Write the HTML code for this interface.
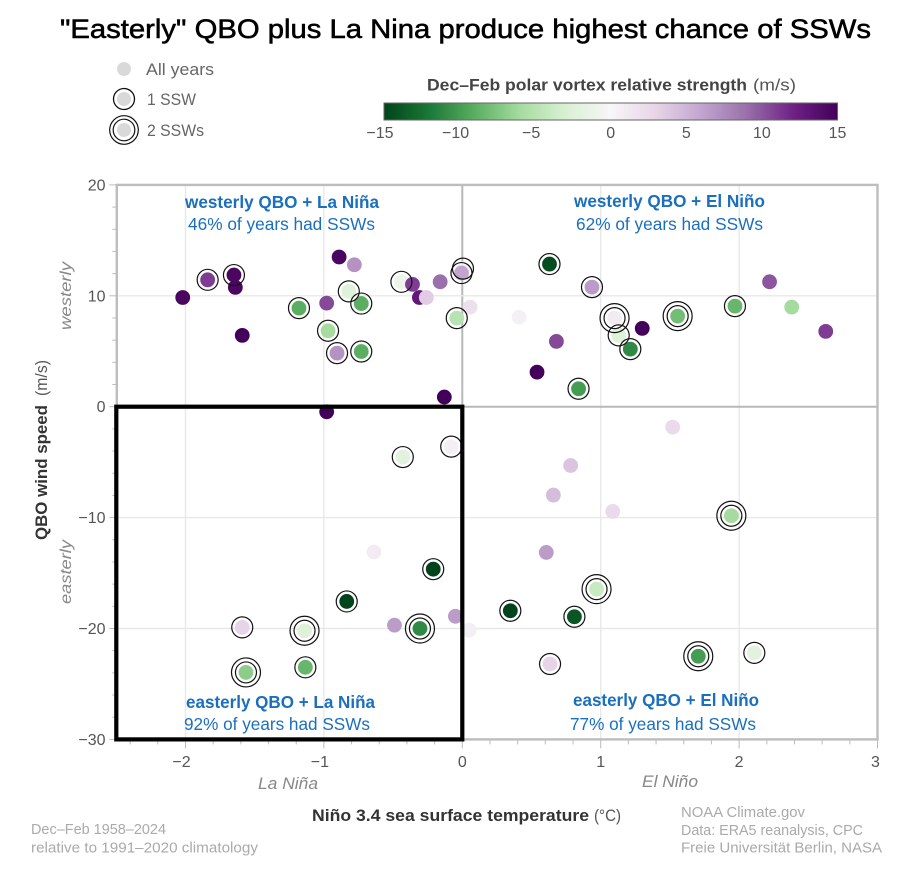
<!DOCTYPE html>
<html lang="en">
<head>
<meta charset="utf-8">
<title>QBO and ENSO scatter</title>
<style>
html,body{margin:0;padding:0;background:#fff;}
svg{display:block;font-family:"Liberation Sans",sans-serif;}
</style>
</head>
<body>
<svg id="chart" xmlns="http://www.w3.org/2000/svg" width="908" height="873" viewBox="0 0 908 873">
  <defs>
    <linearGradient id="cbar" x1="0" x2="1" y1="0" y2="0"></linearGradient>
  </defs>
  <rect width="908" height="873" fill="#fff"/>
  <text x="60" y="38" font-size="26.5" fill="#000" stroke="#000" stroke-width="0.55" textLength="811" lengthAdjust="spacingAndGlyphs">"Easterly" QBO plus La Nina produce highest chance of SSWs</text>

  <g>
    <circle cx="124" cy="69" r="7" fill="#d9d9d9"/>
    <text x="146" y="75" font-size="16.5" fill="#666" textLength="68" lengthAdjust="spacingAndGlyphs">All years</text>
    <circle cx="124" cy="99" r="7" fill="#d9d9d9"/>
    <circle cx="124" cy="99" r="10.5" fill="none" stroke="#111" stroke-width="1.3"/>
    <text x="147" y="105" font-size="16.5" fill="#666" textLength="49" lengthAdjust="spacingAndGlyphs">1 SSW</text>
    <circle cx="124" cy="130" r="7" fill="#d9d9d9"/>
    <circle cx="124" cy="130" r="10.8" fill="none" stroke="#111" stroke-width="1.2"/>
    <circle cx="124" cy="130" r="14.3" fill="none" stroke="#111" stroke-width="1.2"/>
    <text x="147" y="136" font-size="16.5" fill="#666" textLength="57" lengthAdjust="spacingAndGlyphs">2 SSWs</text>
  </g>

  <g>
    <text x="427" y="90.5" font-size="16.5" font-weight="bold" fill="#444" textLength="320" lengthAdjust="spacingAndGlyphs">Dec–Feb polar vortex relative strength</text>
    <text x="753" y="90.5" font-size="16.5" fill="#555" textLength="43" lengthAdjust="spacingAndGlyphs">(m/s)</text>
    <rect x="384" y="103" width="453.5" height="17" fill="url(#cbar)" stroke="#666" stroke-width="1"/>
    <g id="cbarTicks"></g>
  </g>

  <g id="grid"></g>
  <g id="axes"></g>

  <text transform="translate(47,540) rotate(-90)" font-size="17" font-weight="bold" fill="#333" textLength="135" lengthAdjust="spacingAndGlyphs">QBO wind speed</text>
  <text transform="translate(47,396) rotate(-90)" font-size="17" fill="#555" textLength="36" lengthAdjust="spacingAndGlyphs">(m/s)</text>
  <text transform="translate(71,330) rotate(-90)" font-size="16" font-style="italic" fill="#888" textLength="68" lengthAdjust="spacingAndGlyphs">westerly</text>
  <text transform="translate(71,604) rotate(-90)" font-size="16" font-style="italic" fill="#888" textLength="64" lengthAdjust="spacingAndGlyphs">easterly</text>
  <text x="258" y="789" font-size="16.5" font-style="italic" fill="#888" textLength="60" lengthAdjust="spacingAndGlyphs">La Niña</text>
  <text x="642" y="787" font-size="16.5" font-style="italic" fill="#888" textLength="56" lengthAdjust="spacingAndGlyphs">El Niño</text>
  <text x="312" y="821" font-size="17" font-weight="bold" fill="#333" textLength="277" lengthAdjust="spacingAndGlyphs">Niño 3.4 sea surface temperature</text>
  <text x="594" y="821" font-size="17" fill="#555" textLength="27" lengthAdjust="spacingAndGlyphs">(°C)</text>

  <g font-size="17.5" fill="#1a6fbe">
    <text x="185" y="208" font-weight="bold" textLength="194" lengthAdjust="spacingAndGlyphs">westerly QBO + La Niña</text>
    <text x="188" y="230" textLength="187" lengthAdjust="spacingAndGlyphs">46% of years had SSWs</text>
    <text x="574" y="207" font-weight="bold" textLength="191" lengthAdjust="spacingAndGlyphs">westerly QBO + El Niño</text>
    <text x="576" y="230" textLength="187" lengthAdjust="spacingAndGlyphs">62% of years had SSWs</text>
    <text x="186" y="708" font-weight="bold" textLength="189" lengthAdjust="spacingAndGlyphs">easterly QBO + La Niña</text>
    <text x="184" y="730" textLength="186" lengthAdjust="spacingAndGlyphs">92% of years had SSWs</text>
    <text x="573" y="706" font-weight="bold" textLength="186" lengthAdjust="spacingAndGlyphs">easterly QBO + El Niño</text>
    <text x="570" y="730" textLength="186" lengthAdjust="spacingAndGlyphs">77% of years had SSWs</text>
  </g>

  <g id="points"></g>

  <rect id="highlight" fill="none" stroke="#000" stroke-width="4.2"/>

  <g font-size="14.5" fill="#aaa">
    <text x="31" y="834" textLength="135" lengthAdjust="spacingAndGlyphs">Dec–Feb 1958–2024</text>
    <text x="31" y="852.5" textLength="227" lengthAdjust="spacingAndGlyphs">relative to 1991–2020 climatology</text>
    <text x="681" y="817" textLength="124" lengthAdjust="spacingAndGlyphs">NOAA Climate.gov</text>
    <text x="681" y="835" textLength="182" lengthAdjust="spacingAndGlyphs">Data: ERA5 reanalysis, CPC</text>
    <text x="681" y="852.5" textLength="201" lengthAdjust="spacingAndGlyphs">Freie Universität Berlin, NASA</text>
  </g>
</svg>
<script>
// Niño 3.4 anomaly (°C) of each winter
const ninoValues = [-2.02,-1.84,-1.65,-1.64,-1.59,-1.18,-0.98,-0.97,-0.905,-0.73,-0.89,-0.78,-0.82,-0.73,-0.44,-0.36,-0.31,-0.26,-0.16,-0.04,0.005,-0.006,-0.13,-0.98,0.056,0.63,0.937,0.41,0.68,0.54,0.84,1.10,1.13,1.214,1.30,1.556,1.97,2.22,2.38,2.626,-0.43,-0.08,-0.638,-0.21,-0.835,-1.59,-1.14,-0.49,-0.306,-0.05,0.05,-1.563,-1.134,1.52,0.783,0.658,1.087,0.607,1.944,0.97,0.347,0.81,0.634,1.705,2.11];
// QBO wind speed (m/s)
const qboValues = [9.85,11.44,11.87,10.76,6.43,8.89,9.34,6.85,4.83,4.98,13.5,12.8,10.4,9.3,11.26,11.03,9.85,9.85,11.26,7.99,12.45,12.05,0.87,-0.46,8.98,12.86,10.78,8.08,5.89,3.12,1.62,7.99,6.43,5.19,7.06,8.17,9.07,11.26,8.98,6.79,-4.54,-3.6,-13.1,-14.65,-17.56,-19.9,-20.2,-19.7,-20,-18.9,-20.15,-23.96,-23.5,-1.84,-5.3,-7.97,-9.44,-13.14,-9.83,-16.45,-18.4,-18.94,-23.2,-22.5,-22.2];
// polar vortex relative strength (m/s)
const vortexValues = [14.5,11,14.5,14.5,15,-9,10.5,-6,7,-9,14.5,7,-2.5,-9,-1,11,13,3.5,9,-5,0.5,6,15,15,2,-14.5,6.5,0.5,10.5,15,-10,1,-2.5,-11,15,-8,-8.5,10,-6,11,-2,0.7,1,-15,-15,3,-2.5,6.5,-11,6.5,0.7,-7,-8.5,2.5,4,4.5,2.5,6.5,-6,-4,-15,-14,3,-10,-2];
// number of sudden stratospheric warmings
const sswCounts = [0,1,1,0,0,1,0,1,1,1,0,0,1,1,1,0,0,0,0,1,1,1,0,0,0,1,1,0,0,0,1,2,1,1,0,2,1,0,0,0,1,1,0,1,1,1,2,0,2,0,0,2,1,0,0,0,0,0,2,2,1,1,1,2,1];
const xTickLabels = [-2,-1,0,1,2,3];
const yTickLabels = [20,10,0,-10,-20,-30];
const colorbarTickLabels = [-15,-10,-5,0,5,10,15];
const colormapColors = ["#00441b","#1b7837","#5aae61","#a6dba0","#d9f0d3","#f7f7f7","#e7d4e8","#c2a5cf","#9970ab","#702285","#42005a"];

const NS = "http://www.w3.org/2000/svg";
const xScale = v => 462.3 + 138.4 * v;
const yScale = v => 406.7 - 11.09 * v;
const xMin = -2.5, xMax = 3, yMin = -30, yMax = 20;

function make(tag, attrs, parent, text) {
  const el = document.createElementNS(NS, tag);
  for (const k in attrs) el.setAttribute(k, attrs[k]);
  if (text !== undefined) el.textContent = text;
  parent.appendChild(el);
  return el;
}
function hexToRgb(h) {
  return [1, 3, 5].map(i => parseInt(h.substr(i, 2), 16));
}
function vortexColor(v) {
  const t = Math.max(0, Math.min(1, (v + 15) / 30)) * (colormapColors.length - 1);
  const i = Math.min(Math.floor(t), colormapColors.length - 2);
  const a = hexToRgb(colormapColors[i]), b = hexToRgb(colormapColors[i + 1]);
  const f = t - i;
  return "rgb(" + a.map((c, n) => Math.round(c + (b[n] - c) * f)).join(",") + ")";
}
const fmt = v => (v < 0 ? "\u2212" + Math.abs(v) : String(v));

// colorbar gradient and ticks
const grad = document.getElementById("cbar");
colormapColors.forEach((c, i) => {
  make("stop", { offset: (i / (colormapColors.length - 1)), "stop-color": c }, grad);
});
const cbarScale = v => 384 + (v + 15) / 30 * 453.5;
const cbarTicks = document.getElementById("cbarTicks");
colorbarTickLabels.forEach(v => {
  const t = make("text", { x: cbarScale(v) - (v < 0 ? 4 : 0), y: 138, "font-size": 16, fill: "#555", "text-anchor": "middle" }, cbarTicks, fmt(v));
  
  
});

// grid
const grid = document.getElementById("grid");
const axes = document.getElementById("axes");
xTickLabels.forEach(v => {
  if (v === 3) return;
  const l = make("line", { x1: xScale(v), x2: xScale(v), y1: yScale(yMax), y2: yScale(yMin), stroke: v === 0 ? "#b8b8b8" : "#e8e8e8", "stroke-width": v === 0 ? 2 : 1.4 }, grid);
  
  
});
yTickLabels.forEach(v => {
  if (v === 20 || v === -30) return;
  const l = make("line", { x1: xScale(xMin), x2: xScale(xMax), y1: yScale(v), y2: yScale(v), stroke: v === 0 ? "#b8b8b8" : "#e8e8e8", "stroke-width": v === 0 ? 2 : 1.4 }, grid);
  
  
});

// frame
const frame = make("rect", { x: xScale(xMin) + 0.5, y: yScale(yMax), width: xScale(xMax) - xScale(xMin) - 0.5, height: yScale(yMin) - yScale(yMax), fill: "none", stroke: "#bdbdbd", "stroke-width": 2.4 }, axes);



// ticks
for (let i = 0; i <= 25; i++) {
  const v = yMin + i * 2;
  const major = i % 5 === 0;
  const tick = make("line", { x1: xScale(xMin) - (major ? 7 : 4), x2: xScale(xMin), y1: yScale(v), y2: yScale(v), stroke: "#bbb", "stroke-width": 1 }, axes);
  
  
}
for (let i = -12; i <= 15; i++) {
  const v = i * 0.2;
  const major = i % 5 === 0;
  const tick = make("line", { x1: xScale(v), x2: xScale(v), y1: yScale(yMin), y2: yScale(yMin) + (major ? 9 : 5), stroke: "#bbb", "stroke-width": 1 }, axes);
  
  
}
xTickLabels.forEach(v => {
  const t = make("text", { x: xScale(v) - (v < 0 ? 4 : 0) - (v === 3 ? 2 : 0), y: 767, "font-size": 16, fill: "#555", "text-anchor": "middle" }, axes, fmt(v));
  
  
});
yTickLabels.forEach(v => {
  const t = make("text", { x: 105.5, y: yScale(v) + 5.5, "font-size": 16, fill: "#555", "text-anchor": "end" }, axes, fmt(v));
  
  
});

// points
const pointsG = document.getElementById("points");
ninoValues.forEach((n, i) => {
  const cx = xScale(n), cy = yScale(qboValues[i]);
  const dot = make("circle", { cx: cx, cy: cy, r: 7.4, fill: vortexColor(vortexValues[i]) }, pointsG);
  
  
});
ninoValues.forEach((n, i) => {
  const cx = xScale(n), cy = yScale(qboValues[i]);
  if (sswCounts[i] >= 1) {
    const ring = make("circle", { cx: cx, cy: cy, r: 10.5, fill: "none", stroke: "#111", "stroke-width": 1.2 }, pointsG);
    
    
  }
  if (sswCounts[i] >= 2) {
    const ring2 = make("circle", { cx: cx, cy: cy, r: 14.5, fill: "none", stroke: "#111", "stroke-width": 1.2 }, pointsG);
    
    
  }
});

// highlight box
const box = document.getElementById("highlight");
box.setAttribute("x", xScale(xMin));
box.setAttribute("y", yScale(0));
box.setAttribute("width", xScale(0) - xScale(xMin));
box.setAttribute("height", yScale(yMin) - yScale(0));
</script>
</body>
</html>
